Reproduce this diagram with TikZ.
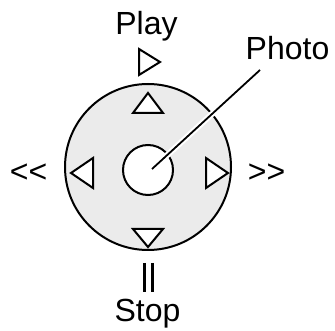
\documentclass[tikz,border=0pt]{standalone}
\usepackage{fontspec}
\setmainfont{Liberation Sans}
\begin{document}
\begin{tikzpicture}[x=1pt,y=-1pt,
  lbl/.style={font=\fontsize{32}{36}\selectfont, inner sep=0pt, anchor=base},
  tri/.style={draw=black, line width=2pt, line join=miter, fill=white},
  ring/.style={draw=black, line width=2pt}]
\useasboundingbox (0,0) rectangle (335,331);
% outer disc
\node[ring, circle, fill=black!8, minimum size=166pt, inner sep=0pt] (disc) at (148,167) {};
% centre button
\node[ring, circle, fill=white, minimum size=50pt, inner sep=0pt] (photobtn) at (148,170) {};
% arrows on the disc
\draw[tri] (133,113) -- (163,113) -- (148,93) -- cycle;
\draw[tri] (133,229) -- (163,229) -- (148,247) -- cycle;
\draw[tri] (93,158) -- (93,188) -- (71,173) -- cycle;
\draw[tri] (206,158) -- (206,188) -- (228,173) -- cycle;
% play marker
\draw[tri] (139,49) -- (139,75) -- (160,62) -- cycle;
% pause marker
\draw[line width=3pt] (144.5,263) -- (144.5,292) (152.5,263) -- (152.5,292);
% labels
\node[lbl] (play) at (146.5,35) {Play};
\node[lbl] (photo) at (287.5,60) {Photo};
\node[lbl] (stop) at (147.5,322) {Stop};
\node[lbl] (rew) at (28.5,183) {{<}{<}};
\node[lbl] (ffw) at (266.5,183) {{>}{>}};
% leader line
\coordinate (lstart) at (260,70);
\coordinate (lend) at (152,169);
\draw[white, line width=6pt] (lstart) -- (lend);
\draw[black, line width=1.8pt] (lstart) -- (lend);
\end{tikzpicture}
\end{document}
